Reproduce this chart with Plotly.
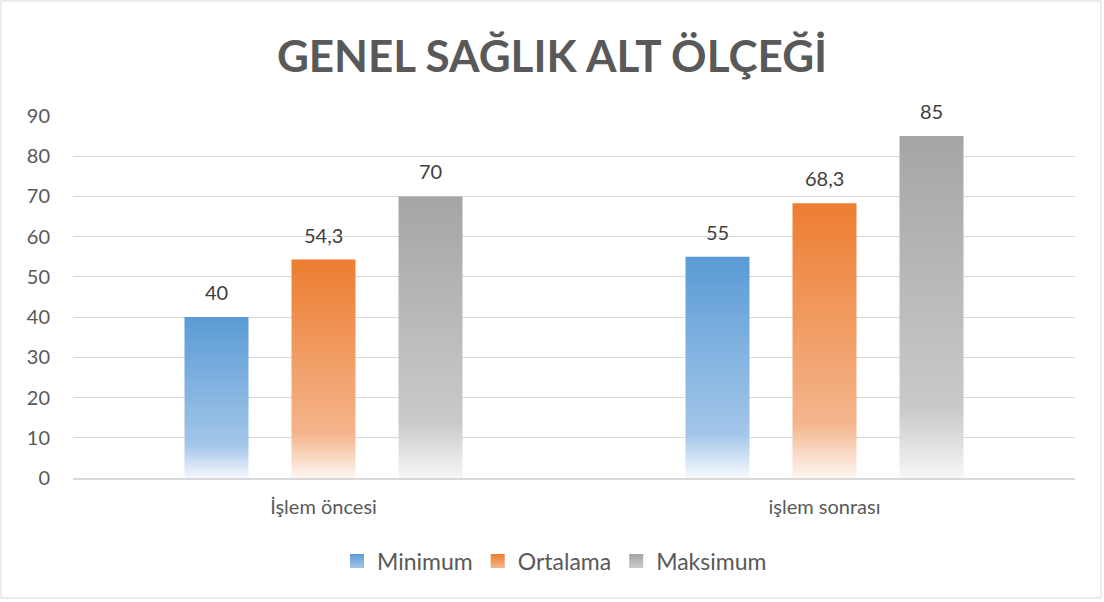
import plotly.graph_objects as go

categories = ["İşlem öncesi", "işlem sonrası"]
series_names = ["Minimum", "Ortalama", "Maksimum"]
minimum = [40, 55]
ortalama = [54.3, 68.3]
maksimum = [70, 85]
series_values = [minimum, ortalama, maksimum]
y_ticks = [0, 10, 20, 30, 40, 50, 60, 70, 80, 90]

colors = ["#5b9bd5", "#ed7d31", "#a5a5a5"]
mid_colors = ["#a3c6e9", "#f4b58c", "#cacaca"]
low_colors = ["#f6f9fd", "#fdf6f1", "#f6f6f6"]

W, H = 1104, 602
L, R, T, B = 73, 29, 116, 124
pw, ph = W - L - R, H - T - B

slot = 107 / 501
half = 32 / 501

fig = go.Figure()

def fmt(v):
    s = ("%g" % v)
    return s.replace(".", ",")

annotations = []
for j, (name, vals) in enumerate(zip(series_names, series_values)):
    for i, v in enumerate(vals):
        xc = i + (j - 1) * slot
        xs = [xc - half, xc + half, xc + half, xc - half, xc - half]
        ys = [0, 0, v, v, 0]
        fig.add_trace(go.Scatter(
            x=xs, y=ys, mode="lines", fill="toself",
            line=dict(width=0, color=colors[j]),
            fillgradient=dict(type="vertical", start=0, stop=v,
                              colorscale=[[0, low_colors[j]], [0.2, mid_colors[j]], [1, colors[j]]]),
            showlegend=False, hoverinfo="skip", name=name,
        ))
        annotations.append(dict(
            x=xc, y=v, xref="x", yref="y", text=fmt(v), showarrow=False,
            yanchor="middle", yshift=25, font=dict(size=20, color="#404040", family="Lato"),
        ))
    fig.add_trace(go.Scatter(
        x=[None], y=[None], mode="markers", name=name,
        marker=dict(symbol="square", size=14, color=colors[j],
                    gradient=dict(type="vertical", color=mid_colors[j])),
    ))

fig.add_shape(type="rect", xref="paper", yref="paper",
              x0=(1 - L) / pw, x1=(1101 - L) / pw,
              y0=(T + ph - 598) / ph, y1=(T + ph - 1) / ph,
              line=dict(color="#d9d9d9", width=1), layer="below")

fig.update_layout(
    width=W, height=H,
    margin=dict(l=L, r=R, t=T, b=B),
    paper_bgcolor="white", plot_bgcolor="white",
    title=dict(text="<b>GENEL SAĞLIK ALT ÖLÇEĞİ</b>", x=0.5, xref="container", xanchor="center",
               y=1 - 57 / H, yref="container", yanchor="middle",
               font=dict(family="Lato", size=44, color="#595959")),
    xaxis=dict(range=[-0.5, 1.5], tickvals=[0, 1], ticktext=categories, showgrid=False,
               zeroline=False, showline=True, linecolor="#d9d9d9", linewidth=1.5,
               ticks="", ticklabelstandoff=10,
               tickfont=dict(family="Lato", size=20, color="#595959"), fixedrange=True),
    yaxis=dict(range=[0, 90], tickvals=y_ticks, showgrid=True, gridcolor="#d9d9d9", gridwidth=1,
               zeroline=False, showline=False, ticks="", ticklabelstandoff=22,
               tickfont=dict(family="Lato", size=20, color="#595959"), fixedrange=True),
    legend=dict(orientation="h", x=(337 - L) / pw, xanchor="left", y=-(561 - 478) / ph, yanchor="middle",
                font=dict(family="Lato", size=23, color="#595959"), itemwidth=30,
                traceorder="normal"),
    annotations=annotations,
    showlegend=True,
)

fig.write_html("out.html", config={"displayModeBar": False},
               post_script="document.body.style.margin='0';document.body.style.padding='0';")
